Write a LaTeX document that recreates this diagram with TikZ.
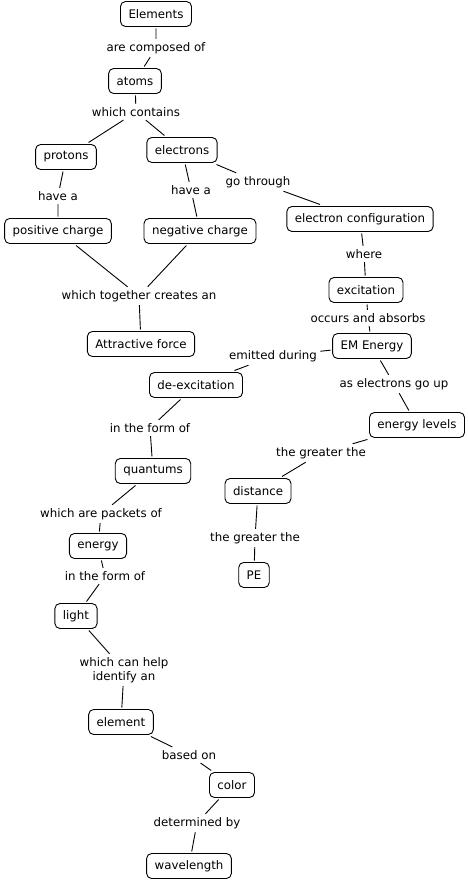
\documentclass[tikz,border=0pt]{standalone}
\usepackage{fontspec}
\setmainfont{DejaVu Sans}
\begin{document}
\begin{tikzpicture}[x=1pt,y=-1pt,font=\fontsize{11.8}{14}\selectfont,
  concept/.style={draw,rounded corners=5pt,line width=0.9pt,inner xsep=8pt,inner ysep=0pt,minimum height=25pt,outer sep=2pt},
  link/.style={inner sep=2pt,outer sep=1.5pt,align=center},
  every path/.style={line width=0.9pt}]
  \useasboundingbox (0,0) rectangle (467,883);
  % concepts
  \node[concept] (elements) at (156,14) {Elements};
  \node[concept] (atoms) at (135,81) {atoms};
  \node[concept] (protons) at (66,157) {protons};
  \node[concept] (electrons) at (182,150) {electrons};
  \node[concept] (poscharge) at (58,231) {positive charge};
  \node[concept] (negcharge) at (200,231) {negative charge};
  \node[concept] (attractive) at (141,344) {Attractive force};
  \node[concept] (econfig) at (360,219) {electron configuration};
  \node[concept] (excitation) at (366,290) {excitation};
  \node[concept] (emenergy) at (372,346) {EM Energy};
  \node[concept] (levels) at (417,425) {energy levels};
  \node[concept] (distance) at (258,491) {distance};
  \node[concept] (pe) at (254,575) {PE};
  \node[concept] (deexcitation) at (196,385) {de-excitation};
  \node[concept] (quantums) at (153,471) {quantums};
  \node[concept] (energy) at (98,546) {energy};
  \node[concept] (light) at (76,616) {light};
  \node[concept] (element) at (121,722) {element};
  \node[concept] (color) at (232,785) {color};
  \node[concept] (wavelength) at (189,866) {wavelength};
  % linking phrases
  \node[link] (composed) at (156,48) {are composed of};
  \node[link] (contains) at (136,112) {which contains};
  \node[link] (havea1) at (58,196) {have a};
  \node[link] (havea2) at (191,190) {have a};
  \node[link] (gothrough) at (258,182) {go through};
  \node[link] (together) at (139,296) {which together creates an};
  \node[link] (where) at (364,254) {where};
  \node[link] (occurs) at (368,318) {occurs and absorbs};
  \node[link] (emitted) at (273,356) {emitted during};
  \node[link] (goup) at (394,384) {as electrons go up};
  \node[link] (greater1) at (321,453) {the greater the};
  \node[link] (greater2) at (255,538) {the greater the};
  \node[link] (form1) at (150,428) {in the form of};
  \node[link] (packets) at (101,514) {which are packets of};
  \node[link] (form2) at (105,576) {in the form of};
  \node[link] (identify) at (124,670) {which can help\\identify an};
  \node[link] (basedon) at (189,755) {based on};
  \node[link] (determined) at (197,823) {determined by};
  % connectors
  \draw (elements) -- (composed) -- (atoms);
  \draw (atoms) -- (contains) -- (protons) (contains) -- (electrons);
  \draw (protons) -- (havea1) -- (poscharge);
  \draw (electrons) -- (havea2) -- (negcharge);
  \draw (electrons) -- (gothrough) -- (econfig);
  \draw (poscharge) -- (together) -- (negcharge) (together) -- (attractive);
  \draw (econfig) -- (where) -- (excitation) -- (occurs) -- (emenergy);
  \draw (emenergy) -- (emitted) -- (deexcitation);
  \draw (emenergy) -- (goup) -- (levels) -- (greater1) -- (distance) -- (greater2) -- (pe);
  \draw (deexcitation) -- (form1) -- (quantums) -- (packets) -- (energy) -- (form2) -- (light);
  \draw (light) -- (identify) -- (element) -- (basedon) -- (color) -- (determined) -- (wavelength);
\end{tikzpicture}
\end{document}
